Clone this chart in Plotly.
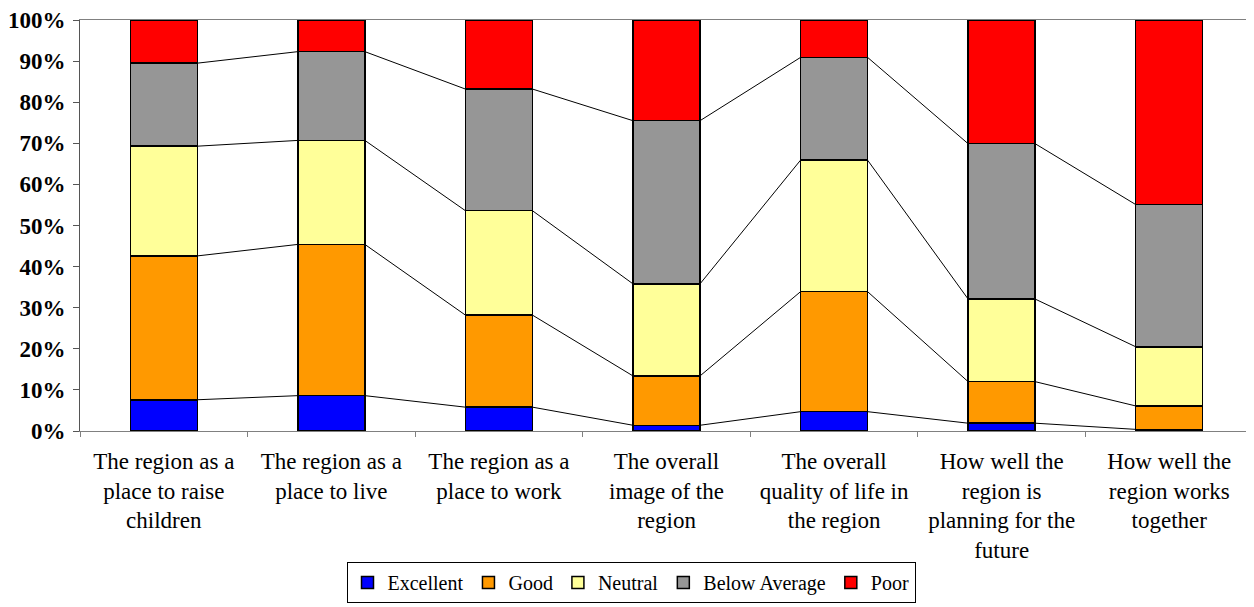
import plotly.graph_objects as go

# Категории (подписи оси X) и доли ответов, % (снизу вверх по стеку).
CATEGORIES = [
    "The region as a<br>place to raise<br>children",
    "The region as a<br>place to live",
    "The region as a<br>place to work",
    "The overall<br>image of the<br>region",
    "The overall<br>quality of life in<br>the region",
    "How well the<br>region is<br>planning for the<br>future",
    "How well the<br>region works<br>together",
]
EXCELLENT = [7.6, 8.6, 5.8, 1.4, 4.7, 1.9, 0.4]
GOOD = [35.0, 36.8, 22.4, 12.0, 29.2, 10.1, 5.7]
NEUTRAL = [26.7, 25.3, 25.4, 22.4, 32.0, 20.1, 14.4]
BELOW_AVERAGE = [20.2, 21.6, 29.6, 39.7, 25.0, 37.8, 34.6]
POOR = [10.5, 7.7, 16.8, 24.5, 9.1, 30.1, 44.9]

SERIES = (
    ("Excellent", EXCELLENT, "#0000ff"),
    ("Good", GOOD, "#ff9900"),
    ("Neutral", NEUTRAL, "#ffff99"),
    ("Below Average", BELOW_AVERAGE, "#969696"),
    ("Poor", POOR, "#ff0000"),
)
BAR_WIDTH = 0.4
FONT = "Liberation Serif, Times New Roman, serif"

fig = go.Figure()
xs = list(range(len(CATEGORIES)))

# Линии-связки между верхами сегментов (как series lines в Excel).
cum = [0.0] * len(CATEGORIES)
for name, values, color in SERIES[:-1]:
    cum = [c + v for c, v in zip(cum, values)]
    lx, ly = [], []
    for i in range(len(xs) - 1):
        lx += [xs[i] + BAR_WIDTH / 2, xs[i + 1] - BAR_WIDTH / 2, None]
        ly += [cum[i], cum[i + 1], None]
    fig.add_scatter(
        x=lx, y=ly, mode="lines", line=dict(color="black", width=1),
        showlegend=False, hoverinfo="skip",
    )

for name, values, color in SERIES:
    fig.add_bar(
        x=xs, y=values, name=name, width=BAR_WIDTH,
        marker=dict(color=color, line=dict(color="black", width=1.5)),
    )

# Страница добавляет отступ 8px сверху/слева, поэтому размеры фигуры меньше окна.
fig.update_layout(
    barmode="stack",
    width=1246,
    height=599,
    margin=dict(l=72, r=1, t=12, b=176, autoexpand=False),
    paper_bgcolor="white",
    plot_bgcolor="white",
    font=dict(family=FONT, size=20, color="black"),
    legend=dict(
        orientation="h", x=0.5, xanchor="center", xref="container",
        y=0.075, yanchor="top", yref="container",
        bordercolor="black", borderwidth=1, font=dict(size=20),
        traceorder="normal", itemwidth=30,
    ),
    xaxis=dict(
        range=[-0.5, len(CATEGORIES) - 0.5], tickvals=xs, ticktext=CATEGORIES,
        ticks="", showline=True, linecolor="#808080", mirror=True,
        showgrid=False, zeroline=False, tickfont=dict(size=23),
        automargin=False, ticklabelstandoff=9,
    ),
    xaxis2=dict(
        overlaying="x", matches="x", side="bottom",
        tickvals=[i - 0.5 for i in range(len(CATEGORIES) + 1)],
        ticks="outside", ticklen=5, tickcolor="#808080", showticklabels=False,
        showgrid=False, zeroline=False, automargin=False,
    ),
    yaxis=dict(
        range=[0, 100], dtick=10, ticksuffix="%", ticks="outside", ticklen=6,
        tickcolor="#555555", showline=True, linecolor="#555555", mirror=True,
        showgrid=False, zeroline=False, automargin=False, ticklabelstandoff=3,
        tickfont=dict(size=23, family=FONT, weight="bold"),
    ),
)
# Пустой след, чтобы ось xaxis2 отрисовалась с засечками между категориями.
fig.add_scatter(x=[None], y=[None], xaxis="x2", showlegend=False, hoverinfo="skip")

fig.write_html("out.html")
